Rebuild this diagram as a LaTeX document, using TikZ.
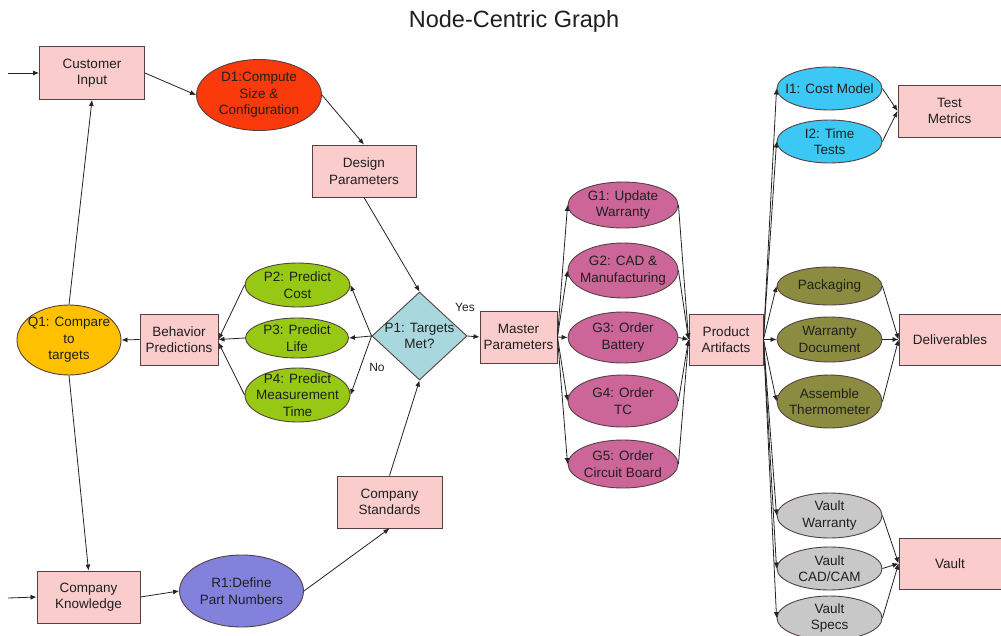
\documentclass[tikz,border=0pt]{standalone}
\usepackage{fontspec}
\setmainfont{Liberation Sans}
\usetikzlibrary{shapes.geometric,arrows.meta}

\definecolor{boxpink}{RGB}{250,204,204}
\definecolor{linec}{RGB}{35,35,35}
\definecolor{bordc}{RGB}{85,65,65}
\definecolor{dred}{RGB}{250,58,10}
\definecolor{qgold}{RGB}{255,192,0}
\definecolor{pgreen}{RGB}{150,200,20}
\definecolor{dteal}{RGB}{168,216,222}
\definecolor{gpink}{RGB}{204,102,153}
\definecolor{icyan}{RGB}{60,200,245}
\definecolor{dolive}{RGB}{140,140,64}
\definecolor{vgray}{RGB}{200,200,200}
\definecolor{rblue}{RGB}{130,130,220}

\newcommand\nodefont{\fontsize{13.5}{16.5}\selectfont}

\tikzset{
  box/.style={draw=bordc, line width=0.9pt, fill=boxpink, inner sep=0pt,
              align=center, font=\nodefont, text=black!88},
  ov/.style={ellipse, draw=bordc, line width=0.9pt, inner sep=0pt},
  txt/.style={align=center, font=\nodefont, text=black!88, inner sep=0pt},
  arr/.style={draw=linec, line width=0.8pt, -{Latex[length=6pt,width=5pt]}},
}

% ellipse node with fixed size and its centred text
% #1 name, #2 position, #3 width, #4 height, #5 fill, #6 text
\newcommand\ellnode[6]{%
  \node[ov, fill=#5, minimum width=#3pt, minimum height=#4pt] (#1) at (#2) {};
  \node[txt] (#1-t) at (#1) {#6};}

\begin{document}
\begin{tikzpicture}[x=1pt, y=-1pt]
\fill[white] (0,0) rectangle (1001,635);
\useasboundingbox (0,0) rectangle (1001,635);

\node[txt, font=\fontsize{23.5}{28}\selectfont] (title) at (514,21) {Node-Centric Graph};

% left loop
\node[box, minimum width=105pt, minimum height=53pt] (ci) at (92,73) {Customer\\Input};
\ellnode{d1}{259,95}{125}{71}{dred}{D1:Compute\\Size \&\\Configuration}
\node[box, minimum width=104pt, minimum height=52pt] (dp) at (364,171) {Design\\Parameters};
\node[diamond, draw=bordc, line width=0.9pt, fill=dteal, inner sep=0pt,
      minimum width=95pt, minimum height=88pt] (p1) at (419.5,336) {};
\node[txt] (p1-t) at (p1) {P1: Targets\\Met?};
\node[txt, font=\fontsize{12}{14}\selectfont] (yes) at (465,307) {Yes};
\node[txt, font=\fontsize{12}{14}\selectfont] (no) at (377,367) {No};

\ellnode{p2}{297.5,285}{105}{44}{pgreen}{P2: Predict\\Cost}
\ellnode{p3}{297,338}{103}{40}{pgreen}{P3: Predict\\Life}
\ellnode{p4}{297.5,395}{105}{54}{pgreen}{P4: Predict\\Measurement\\Time}
\node[box, minimum width=78pt, minimum height=51pt] (bp) at (179,339.5) {Behavior\\Predictions};
\ellnode{q1}{69,340}{104}{70}{qgold}{Q1: Compare\\to\\targets}

\node[box, minimum width=105pt, minimum height=52pt] (cs) at (389.5,502) {Company\\Standards};
\node[box, minimum width=103pt, minimum height=52pt] (ck) at (88.5,597) {Company\\Knowledge};
\ellnode{r1}{241.5,591}{124}{72}{rblue}{R1:Define\\Part Numbers}

% middle
\node[box, minimum width=77pt, minimum height=52pt] (mp) at (518.5,337) {Master\\Parameters};
\ellnode{g1}{623,205}{110}{46}{gpink}{G1: Update\\Warranty}
\ellnode{g2}{623,270.5}{110}{55}{gpink}{G2: CAD \&\\Manufacturing}
\ellnode{g3}{623,337.5}{110}{51}{gpink}{G3: Order\\Battery}
\ellnode{g4}{623,401}{110}{52}{gpink}{G4: Order\\TC}
\ellnode{g5}{623,464}{110}{48}{gpink}{G5: Order\\Circuit Board}
\node[box, minimum width=74pt, minimum height=51pt] (pa) at (726,339.5) {Product\\Artifacts};

% right
\ellnode{i1}{829.5,88.5}{105}{43}{icyan}{I1: Cost Model}
\ellnode{i2}{829.5,141.5}{105}{43}{icyan}{I2: Time\\Tests}
\node[box, minimum width=103pt, minimum height=52pt] (tm) at (949.5,111) {Test\\Metrics};

\ellnode{pk}{829.5,286}{105}{38}{dolive}{Packaging}
\ellnode{wd}{829.5,339.5}{105}{45}{dolive}{Warranty\\Document}
\ellnode{at}{829.5,401.5}{105}{53}{dolive}{Assemble\\Thermometer}
\node[box, minimum width=102pt, minimum height=51pt] (dl) at (950,339.5) {Deliverables};

\ellnode{vw}{829.5,515.5}{105}{45}{vgray}{Vault\\Warranty}
\ellnode{vc}{829.5,568.5}{105}{43}{vgray}{Vault\\CAD/CAM}
\ellnode{vs}{829.5,618}{105}{44}{vgray}{Vault\\Specs}
\node[box, minimum width=102pt, minimum height=51pt] (va) at (950,563.5) {Vault};

% free ends of the two inputs
\coordinate (ciin) at (8,73);
\coordinate (ckin) at (8,598);

% connectors
\draw[arr] (ciin) -- (ci.west);
\draw[arr] (ci.east) -- (d1.west);
\draw[arr] (d1.east) -- (dp.north);
\draw[arr] (dp.south) -- (p1.north);
\draw[arr] (cs.north) -- (p1.south);
\draw[arr] (p1.east) -- (mp.west);
\draw[arr] (p1.west) -- (p2.east);
\draw[arr] (p1.west) -- (p3.east);
\draw[arr] (p1.west) -- (p4.east);
\draw[arr] (p2.west) -- (bp.east);
\draw[arr] (p3.west) -- (bp.east);
\draw[arr] (p4.west) -- ([yshift=-3pt]bp.east);
\draw[arr] (bp.west) -- (q1.east);
\draw[arr] (q1.north) -- (ci.south);
\draw[arr] (q1.south) -- (ck.north);
\draw[arr] (ckin) -- (ck.west);
\draw[arr] (ck.east) -- (r1.west);
\draw[arr] (r1.east) -- (cs.south);

\foreach \g in {g1,g2,g3,g4,g5}{
  \draw[arr] (mp.east) -- (\g.west);
  \draw[arr] (\g.east) -- (pa.west);
}
\foreach \e in {i1,i2,pk,wd,at,vw,vc,vs}{
  \draw[arr] (pa.east) -- (\e.west);
}
\draw[arr] (i1.east) -- (tm.west);
\draw[arr] (i2.east) -- (tm.west);
\foreach \e in {pk,wd,at}{ \draw[arr] (\e.east) -- (dl.west); }
\foreach \e in {vw,vc,vs}{ \draw[arr] (\e.east) -- (va.west); }
\end{tikzpicture}
\end{document}
